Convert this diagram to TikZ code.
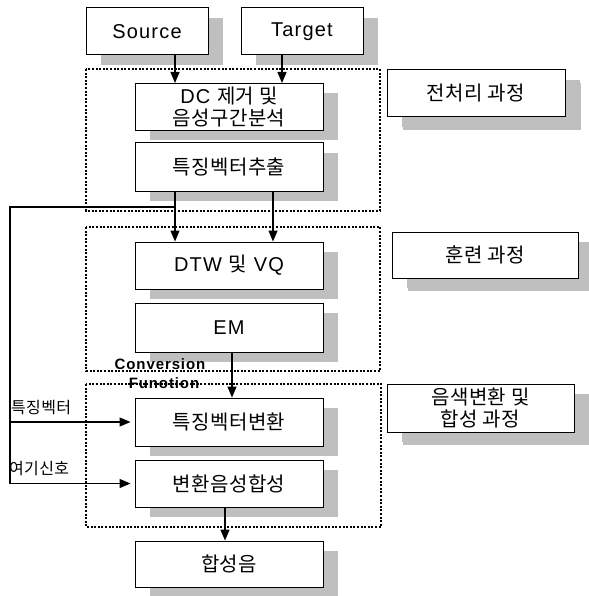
\documentclass[tikz,border=0pt]{standalone}
\usepackage{fontspec}
\setmainfont{Liberation Sans}[LetterSpace=6]
\newfontfamily\kr{Noto Sans CJK KR}[LetterSpace=2]
\usetikzlibrary{arrows.meta,shadows}
\tikzset{
  shad/.style={drop shadow={shadow xshift=15pt, shadow yshift=-10pt, fill=gray!50, opacity=1}},
  box/.style={draw, line width=1pt, fill=white, minimum width=188pt, minimum height=47pt,
    inner sep=0pt, align=center, font=\fontsize{20}{24}\selectfont, shad},
  sbox/.style={box, minimum width=122pt},
  side/.style={box, drop shadow={shadow xshift=16pt, shadow yshift=-13pt, fill=gray!50, opacity=1}},
  dashbox/.style={line width=1.3pt, dash pattern=on 2pt off 1.6pt},
  conn/.style={line width=1.3pt},
  arr/.style={conn, -{Triangle[width=9pt,length=11pt]}},
  lab/.style={inner sep=0pt, font=\fontsize{16}{18}\selectfont\kr},
  cf/.style={inner sep=0pt, font=\fontsize{15}{18}\selectfont\bfseries}
}
\begin{document}
\begin{tikzpicture}[x=1pt,y=-1pt]
\useasboundingbox (0,0) rectangle (588,596);
% dashed grouping boxes
\draw[dashbox] (86,69) rectangle (380,211);
\draw[dashbox] (86,227) rectangle (380,371);
\draw[dashbox] (86,384) rectangle (381,527);
% column coordinates
\coordinate (x1) at (175,0);
\coordinate (x2) at (282,0);
\coordinate (x3) at (273,0);
\coordinate (x4) at (232,0);
\coordinate (x5) at (225,0);
% main boxes
\node[sbox] (src) at (147,31.5) {Source};
\node[sbox] (tgt) at (302,31.5) {Target};
\node[box, font=\fontsize{20}{22}\selectfont] (dc) at (229,107) {DC {\kr 제거 및}\\{\kr 음성구간분석}};
\node[box, minimum height=48pt] (feat) at (229,167) {\kr 특징벡터추출};
\node[box] (dtw) at (229,265.5) {DTW {\kr 및} VQ};
\node[box, minimum height=49pt] (em) at (229,327.5) {EM};
\node[box, minimum height=48pt] (conv) at (229,422) {\kr 특징벡터변환};
\node[box] (synth) at (229,483.5) {\kr 변환음성합성};
\node[box, minimum height=46pt] (out) at (229,564) {\kr 합성음};
% side boxes
\node[side, minimum width=178pt] (pre) at (476,93.5) {\kr 전처리 과정};
\node[side, minimum width=186pt, minimum height=46pt] (train) at (485,255) {\kr 훈련 과정};
\node[side, minimum width=187pt, minimum height=48pt, font=\fontsize{20}{22}\selectfont] (proc) at (480.5,408) {\kr 음색변환 및\\\kr 합성 과정};
% labels
\node[cf] (cv1) at (160,364) {Conversion};
\node[cf] (cv2) at (164,383) {Funotion};
\node[lab, anchor=west] (l1) at (11,408) {특징벡터};
\node[lab, anchor=west] (l2) at (9,469) {여기신호};
% arrows
\draw[arr] (src.south -| x1) -- (dc.north -| x1);
\draw[arr] (tgt.south -| x2) -- (dc.north -| x2);
\draw[arr] (feat.south -| x1) -- (dtw.north -| x1);
\draw[arr] (feat.south -| x3) -- (dtw.north -| x3);
\draw[arr] (em.south -| x4) -- (conv.north -| x4);
\draw[arr] (synth.south -| x5) -- (out.north -| x5);
% feedback line
\coordinate (tap) at (175,207);
\coordinate (lft) at (10,207);
\draw[conn] (tap) -- (lft) -- (lft |- synth.west);
\draw[arr, shorten >=4pt] (lft |- conv.west) -- (conv.west);
\draw[arr, shorten >=4pt] (lft |- synth.west) -- (synth.west);
\end{tikzpicture}
\end{document}
